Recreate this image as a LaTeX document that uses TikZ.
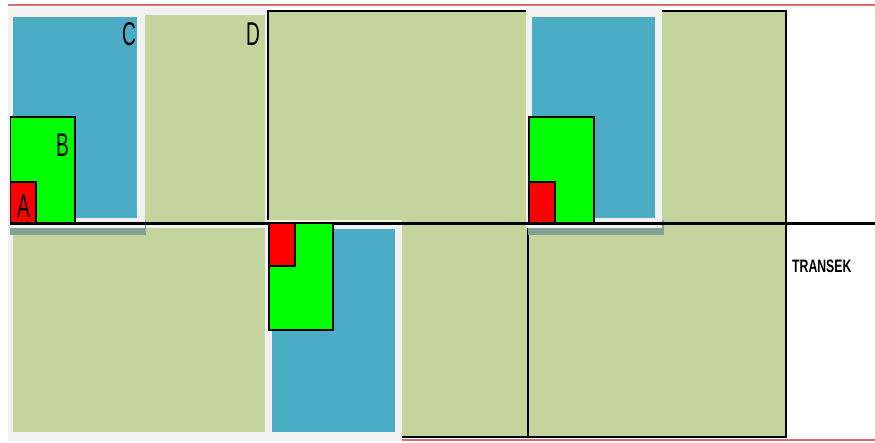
\documentclass[tikz,border=0pt]{standalone}
\usepackage{fontspec}
\setmainfont{Liberation Sans}
\usetikzlibrary{positioning}
\definecolor{plotblue}{RGB}{75,172,198}
\definecolor{fieldgreen}{RGB}{195,213,156}
\definecolor{framegray}{RGB}{241,241,241}
\definecolor{shadowgray}{RGB}{132,160,150}
\definecolor{edgered}{RGB}{216,110,110}
\tikzstyle{plotframe}=[fill=framegray]
\tikzstyle{plotshadow}=[fill=shadowgray]
\tikzstyle{plotarea}=[fill=plotblue]
\tikzstyle{field}=[fill=fieldgreen]
\tikzstyle{fieldbox}=[fill=fieldgreen,draw=black,line width=2pt]
\tikzstyle{subB}=[fill=green,draw=black,line width=1.6pt]
\tikzstyle{subA}=[fill=red,draw=black,line width=1.6pt]
\tikzstyle{edge}=[edgered,line width=2pt]
\tikzstyle{transect}=[black,line width=2.2pt]
\tikzstyle{lbl}=[inner sep=0pt,font=\fontsize{33}{33}\selectfont]
\tikzstyle{tlbl}=[inner sep=0pt,font=\fontsize{18}{18}\selectfont\bfseries]
\begin{document}
\begin{tikzpicture}[x=1pt,y=-1pt]
\useasboundingbox (0,0) rectangle (875,442);
\draw [edge] (8,5) -- (875,5);
\fill [plotframe] (8,8) rectangle (268,441);
\fill [field] (145,15) rectangle (265,223);
\fill [field] (13,228) rectangle (265,432);
\draw [edge] (401,439.5) -- (875,439.5);
\draw [fieldbox] (268,11) rectangle (786,223);
\draw [fieldbox] (401,223) rectangle (786,437);
\draw [black,line width=2pt] (528,223) -- (528,437);
\fill [plotshadow] (10,220) rectangle (146,235);
\fill [plotshadow] (528,220) rectangle (664,235);
\fill [plotframe] (8,8) rectangle (145,228);
\fill [plotarea] (13,17) rectangle (137,218);
\fill [plotframe] (526,8) rectangle (662,228);
\fill [plotarea] (532,17) rectangle (655,218);
\fill [plotframe] (266,220) rectangle (402,441);
\fill [plotarea] (272,229) rectangle (395,432);
\draw [transect] (10,223.5) -- (875,223.5);
\draw [subB] (10.5,117) rectangle (75,223);
\draw [subA] (10.5,182) rectangle (36,223);
\draw [subB] (529,117) rectangle (594,223);
\draw [subA] (529,182) rectangle (555,223);
\draw [subB] (269,223) rectangle (333,330);
\draw [subA] (269,223) rectangle (295,266);
\node (labA) [lbl] at (23.5,206) {\scalebox{0.58}[1]{A}};
\node (labB) [lbl] at (62.5,145) {\scalebox{0.58}[1]{B}};
\node (labC) [lbl] at (129,34) {\scalebox{0.58}[1]{C}};
\node (labD) [lbl] at (253,34) {\scalebox{0.58}[1]{D}};
\node (labT) [tlbl,anchor=west] at (792,266) {\scalebox{0.68}[1]{TRANSEK}};
\end{tikzpicture}
\end{document}
